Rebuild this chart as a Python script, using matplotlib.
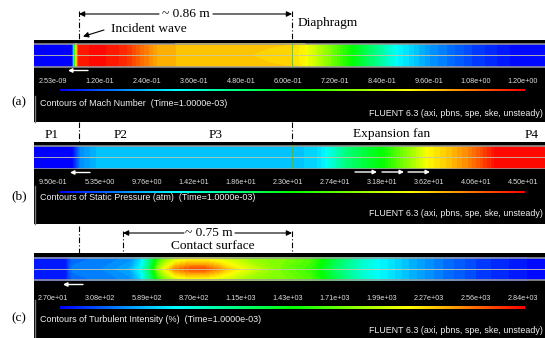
import numpy as np
import matplotlib
matplotlib.use('Agg')
import matplotlib.pyplot as plt
from matplotlib.colors import LinearSegmentedColormap, Normalize
from matplotlib.cm import ScalarMappable
from matplotlib.patches import Rectangle

# ---------------- data (position along tube in m, diaphragm at 0) ----------------
mach_x = [-1.042, -0.888, -0.884, -0.876, -0.864, -0.775, -0.674, -0.614, -0.545,
          -0.452, -0.210, -0.089, -0.008, 0.052, 0.153, 0.242, 0.335, 0.428,
          0.557, 0.727, 0.880, 1.021]
mach_axis = [0.0, 0.0, 0.3, 0.8, 1.17, 1.19, 1.15, 1.08, 1.0,
             0.975, 0.97, 0.94, 0.94, 0.90, 0.75, 0.60, 0.45, 0.30,
             0.18, 0.08, 0.02, 0.0]
mach_wall = [0.0, 0.0, 0.3, 0.8, 1.17, 1.19, 1.15, 1.08, 1.0,
             0.975, 0.975, 0.97, 0.96, 0.90, 0.75, 0.60, 0.45, 0.30,
             0.18, 0.08, 0.02, 0.0]

pres_x = [-1.042, -0.888, -0.864, -0.856, -0.816, -0.787, -0.775, 0.032, 0.093,
          0.133, 0.214, 0.363, 0.456, 0.549, 0.638, 0.719, 0.832, 1.021]
pres_vals = [0.95, 0.95, 5.5, 7.0, 8.3, 9.2, 9.4, 9.6, 10.2,
             12.0, 17.5, 23.0, 28.5, 34.0, 36.7, 39.5, 45.0, 45.0]

ti_x = [-1.042, -0.916, -0.888, -0.775, -0.654, -0.614, -0.581, -0.561, -0.541,
        -0.513, -0.472, -0.412, -0.351, -0.299, -0.250, -0.190, -0.109, -0.028,
        0.073, 0.174, 0.275, 0.355, 0.476, 0.597, 0.759, 1.021]
ti_axis = [83, 83, 365, 393, 505, 730, 1082, 1434, 1855,
           2137, 2474, 2615, 2615, 2446, 2249, 2080, 1884, 1715,
           1574, 1152, 871, 730, 533, 365, 196, 27]
ti_wall = [83, 83, 330, 365, 420, 600, 1000, 1250, 1500,
           1750, 1940, 2050, 2050, 2000, 1950, 1855, 1800, 1770,
           1650, 1240, 900, 730, 533, 365, 196, 27]

mach_ticks = ['2.53e-09', '1.20e-01', '2.40e-01', '3.60e-01', '4.80e-01', '6.00e-01',
              '7.20e-01', '8.40e-01', '9.60e-01', '1.08e+00', '1.20e+00']
pres_ticks = ['9.50e-01', '5.35e+00', '9.76e+00', '1.42e+01', '1.86e+01', '2.30e+01',
              '2.74e+01', '3.18e+01', '3.62e+01', '4.06e+01', '4.50e+01']
ti_ticks = ['2.70e+01', '3.08e+02', '5.89e+02', '8.70e+02', '1.15e+03', '1.43e+03',
            '1.71e+03', '1.99e+03', '2.27e+03', '2.56e+03', '2.84e+03']

titles = ['Contours of Mach Number  (Time=1.0000e-03)',
          'Contours of Static Pressure (atm)  (Time=1.0000e-03)',
          'Contours of Turbulent Intensity (%)  (Time=1.0000e-03)']
fluent_txt = 'FLUENT 6.3 (axi, pbns, spe, ske, unsteady)'

# ---------------- figure ----------------
W, H = 545, 338
fig = plt.figure(figsize=(W / 100, H / 100), dpi=100)
fig.patch.set_facecolor('white')
SANS = ['Liberation Sans', 'DejaVu Sans']
SERIF = ['Liberation Serif', 'DejaVu Serif']

def fbox(x0, y0, x1, y1):
    return [x0 / W, 1 - y1 / H, (x1 - x0) / W, (y1 - y0) / H]

bg = fig.add_axes([0, 0, 1, 1])
bg.set_xlim(0, W)
bg.set_ylim(H, 0)
bg.axis('off')

cmap = LinearSegmentedColormap.from_list(
    'fluent', ['#0000ff', '#00ffff', '#00ff00', '#ffff00', '#ff0000'])

panels = [
    dict(black=(40, 122), tube=(43, 67.5), ticks_y=81.5, cbar_y=90, title_y=103.5,
         fluent_y=113.5, lab='(a)', lab_y=102, x=mach_x, ax_v=mach_axis, wall_v=mach_wall,
         vmin=2.53e-9, vmax=1.2, ticks=mach_ticks, diaph=True, gray=(96, 122)),
    dict(black=(142, 224), tube=(145, 169.5), ticks_y=182.5, cbar_y=192, title_y=197.5,
         fluent_y=214, lab='(b)', lab_y=196, x=pres_x, ax_v=pres_vals, wall_v=pres_vals,
         vmin=0.95, vmax=45.0, ticks=pres_ticks, diaph=True, gray=(186, 224)),
    dict(black=(253, 338), tube=(257, 281), ticks_y=298.5, cbar_y=307.5, title_y=319.5,
         fluent_y=330.5, lab='(c)', lab_y=318, x=ti_x, ax_v=ti_axis, wall_v=ti_wall,
         vmin=27, vmax=2840, ticks=ti_ticks, diaph=False, gray=(300, 338)),
]

for k, p in enumerate(panels):
    y0, y1 = p['black']
    bg.add_patch(Rectangle((34, y0), W - 34, y1 - y0, facecolor='black', edgecolor='none'))
    bg.plot([35, 35], list(p['gray']), color='#7a7a7a', lw=1)
    # tube
    t0, t1 = p['tube']
    ax = fig.add_axes(fbox(34, t0, W, t1))
    xs = np.array(p['x'])
    X, Y = np.meshgrid(xs, [-1.0, 0.0, 1.0])
    Z = np.array([p['wall_v'], p['ax_v'], p['wall_v']], dtype=float)
    levels = np.linspace(p['vmin'], p['vmax'], 61)
    ax.contourf(X, Y, Z, levels=levels, cmap=cmap, extend='both', antialiased=False)
    ax.set_xlim(xs[0], xs[-1])
    ax.set_ylim(-1.06, 1.06)
    for yy in (-1, 1):
        ax.axhline(yy, color='#9c9c9c', lw=1.1)
    ax.axhline(0, color='#c8c8a8', lw=0.7, alpha=0.85)
    if p['diaph']:
        ax.axvline(0, color='#5ab43c', lw=0.7, alpha=0.8)
    ax.axis('off')
    # colorbar
    cy = p['cbar_y']
    cax = fig.add_axes(fbox(60, cy - 1.4, 525, cy + 1.4))
    cb = fig.colorbar(ScalarMappable(norm=Normalize(p['vmin'], p['vmax']), cmap=cmap),
                      cax=cax, orientation='horizontal')
    cb.outline.set_visible(False)
    cax.set_xticks([])
    cax.set_yticks([])
    # tick labels
    for i, s in enumerate(p['ticks']):
        bg.text(53 + 47 * i, p['ticks_y'], s, ha='center', va='center', fontsize=5.2,
                color='#dcdcdc', family=SANS)
    bg.text(40, p['title_y'], titles[k], ha='left', va='center',
            fontsize=6.5, color='#f0f0f0', family=SANS)
    bg.text(543, p['fluent_y'], fluent_txt, ha='right', va='center', fontsize=6.4,
            color='#f0f0f0', family=SANS)
    bg.text(19, p['lab_y'], p['lab'], ha='center', va='center', fontsize=9.6,
            color='black', family=SERIF)

# ---------------- annotations ----------------
dd = (0, (5, 2, 1, 2))
ann = dict(color='black', lw=0.8)

def arrow(x0, y0, x1, y1, color='black', ms=8, lw=0.8):
    bg.annotate('', xy=(x1, y1), xytext=(x0, y0),
                arrowprops=dict(arrowstyle='-|>', color=color, lw=lw, mutation_scale=ms,
                                shrinkA=0, shrinkB=0))

# panel (a) header
bg.plot([79, 79], [11, 40], ls=dd, **ann)
bg.plot([292, 292], [11, 40], ls=dd, **ann)
bg.text(186, 14, '~ 0.86 m', ha='center', va='center', fontsize=9.6, family=SERIF)
arrow(159, 14, 79, 14)
arrow(213, 14, 292, 14)
bg.text(111, 29, 'Incident wave', ha='left', va='center', fontsize=9.6, family=SERIF)
arrow(104, 30, 83, 36.5)
bg.text(298, 23, 'Diaphragm', ha='left', va='center', fontsize=9.6, family=SERIF)

# panel (b) header
bg.plot([79, 79], [122, 142], ls=dd, **ann)
bg.plot([292, 292], [122, 142], ls=dd, **ann)
for s, xx in [('P1', 52), ('P2', 121), ('P3', 216), ('Expansion fan', 392), ('P4', 532)]:
    bg.text(xx, 134.5, s, ha='center', va='center', fontsize=9.6, family=SERIF)

# panel (c) header
bg.plot([79, 79], [226, 253], ls=dd, **ann)
bg.plot([123, 123], [231, 253], ls=dd, **ann)
bg.plot([292, 292], [231, 253], ls=dd, **ann)
bg.text(209, 233, '~ 0.75 m', ha='center', va='center', fontsize=9.6, family=SERIF)
arrow(184, 233, 123, 233)
arrow(235, 233, 292, 233)
bg.text(213, 246, 'Contact surface', ha='center', va='center', fontsize=9.6, family=SERIF)

# white wave-direction arrows
arrow(88, 70.5, 68, 70.5, color='white', ms=6, lw=1.0)
arrow(90, 172.5, 70, 172.5, color='white', ms=6, lw=1.0)
for xa in (355, 382, 408):
    arrow(xa, 172, xa + 22, 172, color='white', ms=6, lw=1.0)
arrow(83, 284.5, 63, 284.5, color='white', ms=6, lw=1.0)

fig.savefig('out.png', dpi=100, facecolor='white')
